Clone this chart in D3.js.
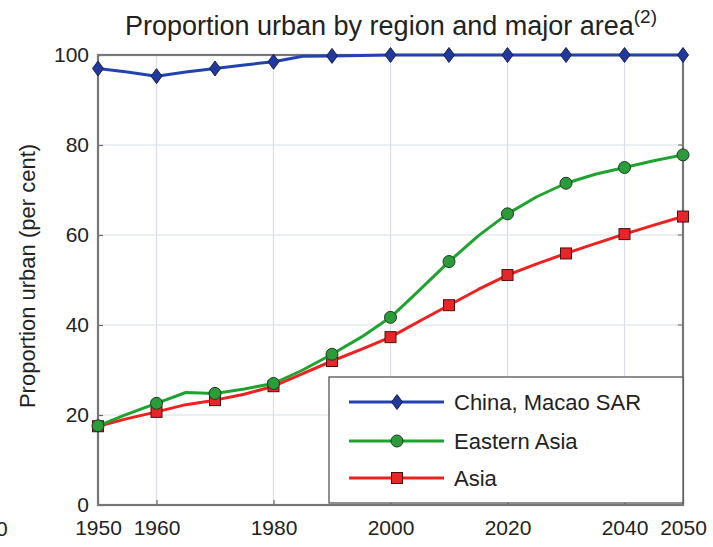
<!DOCTYPE html>
<html><head><meta charset="utf-8">
<script src="https://cdn.jsdelivr.net/npm/d3@7"></script>
<style>
body{margin:0;background:#fff;}
text{font-family:"Liberation Sans",Arial,sans-serif;fill:#222;}
</style></head><body>
<svg id="c" width="713" height="547"></svg>
<script>
const years = [1950,1955,1960,1965,1970,1975,1980,1985,1990,1995,2000,2005,2010,2015,2020,2025,2030,2035,2040,2045,2050];
const macao = [97.0,96.2,95.3,96.2,97.0,97.8,98.5,99.7,99.8,99.9,100,100,100,100,100,100,100,100,100,100,100];
const easternAsia = [17.6,20.2,22.6,25.0,24.8,25.8,27.0,30.0,33.5,37.3,41.7,47.8,54.1,59.8,64.7,68.5,71.5,73.5,75.0,76.5,77.8];
const asia = [17.5,19.2,20.7,22.3,23.3,24.6,26.4,29.2,32.0,34.6,37.3,40.9,44.4,47.9,51.1,53.6,55.9,58.1,60.2,62.2,64.1];
const markerYears = [1950,1960,1970,1980,1990,2000,2010,2020,2030,2040,2050];
const xTicks = [1950,1960,1980,2000,2020,2040,2050];
const xGrid = [1960,1980,2000,2020,2040];
const yTicks = [0,20,40,60,80,100];
const seriesNames = ["China, Macao SAR","Eastern Asia","Asia"];

const svg = d3.select("#c");
const L=98,R=683,T=55,B=505;
const x = d3.scaleLinear().domain([1950,2050]).range([L,R]);
const y = d3.scaleLinear().domain([0,100]).range([B,T]);

// grid
svg.append("g").selectAll("line").data(xGrid).join("line")
  .attr("x1",d=>x(d)).attr("x2",d=>x(d)).attr("y1",T).attr("y2",B)
  .attr("stroke","#d8dde6").attr("stroke-width",1.2);
svg.append("g").selectAll("line").data(yTicks.filter(d=>d>0&&d<100)).join("line")
  .attr("x1",L).attr("x2",R).attr("y1",d=>y(d)).attr("y2",d=>y(d))
  .attr("stroke","#d8dde6").attr("stroke-width",1.2);

// axes
const xa = svg.append("g").attr("transform",`translate(0,${B})`)
  .call(d3.axisBottom(x).tickValues(xTicks).tickFormat(d3.format("d")).tickSize(-5).tickPadding(15));
const ya = svg.append("g").attr("transform",`translate(${L},0)`)
  .call(d3.axisLeft(y).tickValues(yTicks).tickSize(-5).tickPadding(9));
[xa,ya].forEach(a=>{
  a.select(".domain").remove();
  a.selectAll("line").attr("stroke","#666").attr("stroke-width",1.2);
  a.selectAll("text").style("font-family","'Liberation Sans',Arial,sans-serif").style("font-size","21px").attr("fill","#222");
});
// right ticks
svg.append("g").selectAll("line").data(yTicks).join("line")
  .attr("x1",R-5).attr("x2",R).attr("y1",d=>y(d)).attr("y2",d=>y(d)).attr("stroke","#666");
// box
svg.append("rect").attr("x",L).attr("y",T).attr("width",R-L).attr("height",B-T)
  .attr("fill","none").attr("stroke","#777").attr("stroke-width",2.2);

const colors = ["#2342b0","#1fa32f","#f02020"];
const fills = ["#1f3a9c","#2a9c3a","#e8262a"];
const data = [macao,easternAsia,asia];
const line = d3.line().x((d,i)=>x(years[i])).y(d=>y(d));

function marker(g,k,cx,cy){
  if(k===0){
    g.append("path").attr("d",`M${cx},${cy-7.5}L${cx+5.5},${cy}L${cx},${cy+7.5}L${cx-5.5},${cy}Z`)
     .attr("fill",fills[0]).attr("stroke","#1a2050").attr("stroke-width",1);
  } else if(k===1){
    g.append("circle").attr("cx",cx).attr("cy",cy).attr("r",6)
     .attr("fill",fills[1]).attr("stroke","#1d3a20").attr("stroke-width",1);
  } else {
    g.append("rect").attr("x",cx-5.5).attr("y",cy-5.5).attr("width",11).attr("height",11)
     .attr("fill",fills[2]).attr("stroke","#4a1010").attr("stroke-width",1);
  }
}

[2,1,0].forEach(k=>{
  const g = svg.append("g");
  g.append("path").datum(data[k]).attr("d",line).attr("fill","none")
   .attr("stroke",colors[k]).attr("stroke-width",3).attr("stroke-linejoin","round");
  markerYears.forEach(yr=>{
    const i = years.indexOf(yr);
    marker(g,k,x(yr),y(data[k][i]));
  });
});

// legend
const lg = svg.append("g");
lg.append("rect").attr("x",329).attr("y",377).attr("width",R-329).attr("height",126)
  .attr("fill","#fff").attr("stroke","#555").attr("stroke-width",1.3);
const rows=[402,441,478];
seriesNames.forEach((n,k)=>{
  lg.append("line").attr("x1",349).attr("x2",444).attr("y1",rows[k]).attr("y2",rows[k])
    .attr("stroke",colors[k]).attr("stroke-width",3);
  marker(lg,k,397,rows[k]);
  lg.append("text").attr("x",454).attr("y",rows[k]+8).style("font-size","22px").text(n);
});

// y label
svg.append("text").attr("transform","translate(35,276) rotate(-90)").attr("text-anchor","middle")
  .style("font-size","22px").text("Proportion urban (per cent)");
// title
const t = svg.append("text").attr("x",391).attr("y",35).attr("text-anchor","middle").style("font-size","27px");
t.append("tspan").text("Proportion urban by region and major area");
t.append("tspan").attr("dy",-12).style("font-size","19px").text("(2)");
// partial neighbour label at left edge, as in the reference
svg.append("text").attr("x",-4).attr("y",536).style("font-size","21px").text("0");
</script>
</body></html>
